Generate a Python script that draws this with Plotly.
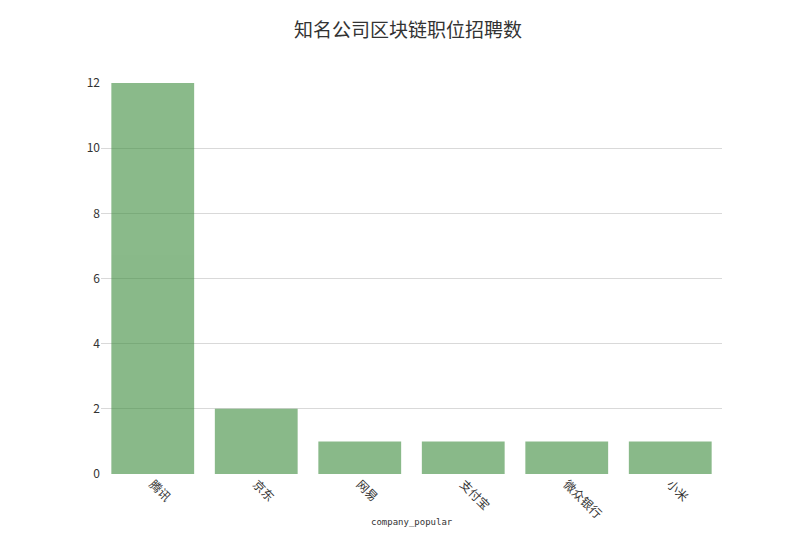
import plotly.graph_objects as go

# companies and job counts
companies = ["腾讯", "京东", "网易", "支付宝", "微众银行", "小米"]
job_counts = [12, 2, 1, 1, 1, 1]

fig = go.Figure(go.Bar(
    x=companies,
    y=job_counts,
    marker=dict(color="rgb(60,140,60)", line=dict(width=0)),
    opacity=0.6,
))

fig.update_layout(
    title=dict(text="知名公司区块链职位招聘数", x=0.5, xanchor="center",
               y=0.958, yanchor="middle",
               font=dict(size=19, color="#333")),
    font=dict(family="Noto Sans CJK SC", color="#333"),
    width=800, height=533,
    margin=dict(l=93, r=86, t=75, b=67),
    plot_bgcolor="white", paper_bgcolor="white",
    bargap=0.2,
    showlegend=False,
)
# x axis title placed as an annotation so it sits where the reference has it
fig.add_annotation(
    text="company_popular", xref="paper", yref="paper", x=0.5, y=-0.123,
    xanchor="center", yanchor="middle", showarrow=False,
    font=dict(size=9, family="DejaVu Sans Mono", color="#333"),
)
fig.update_xaxes(
    tickangle=45, tickfont=dict(size=12), automargin=False,
    showline=False, ticks="",
)
fig.update_yaxes(
    range=[0, 12], dtick=2, tickfont=dict(size=12), automargin=False,
    gridcolor="#d9d9d9", zeroline=False, showline=False,
)

fig.write_html("out.html")
